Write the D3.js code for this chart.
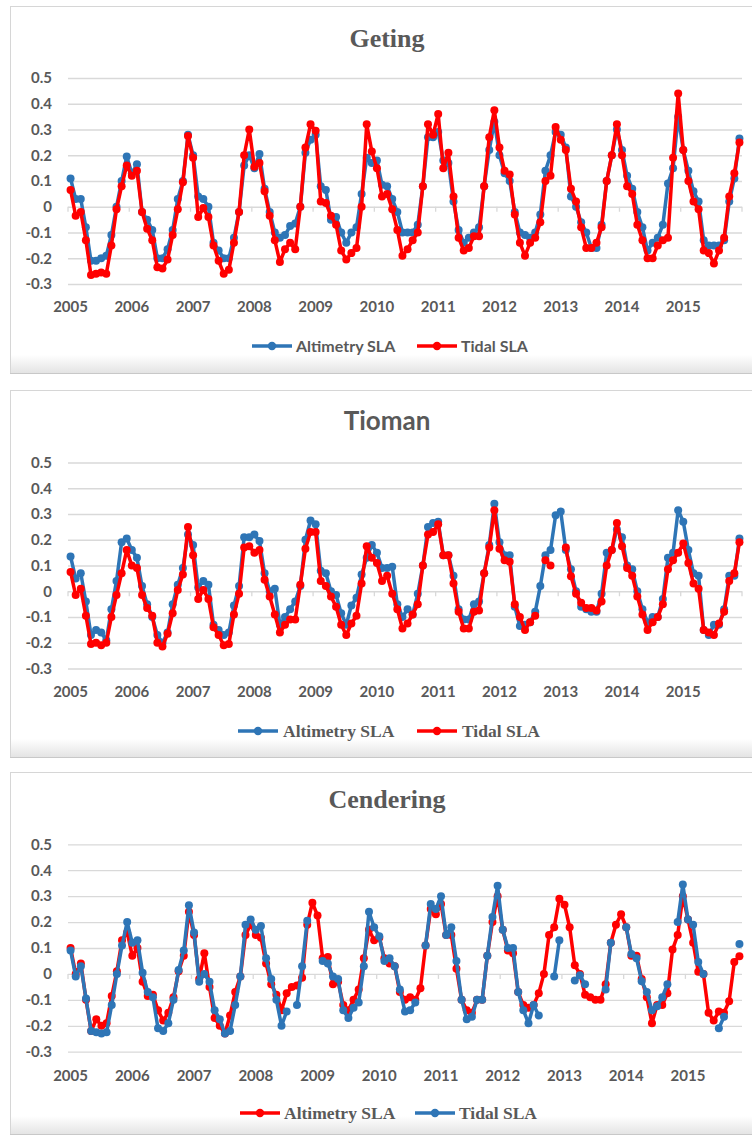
<!DOCTYPE html>
<html>
<head>
<meta charset="utf-8">
<script src="https://cdn.jsdelivr.net/npm/d3@7"></script>
<style>
  body { margin: 0; background: #ffffff; }
  svg { display: block; }
</style>
</head>
<body>
<script>
// tick labels
var years = ["2005", "2006", "2007", "2008", "2009", "2010", "2011", "2012", "2013", "2014", "2015"];
var yTicks = [-0.3, -0.2, -0.1, 0, 0.1, 0.2, 0.3, 0.4, 0.5];

// monthly SLA (m), Jan 2005 onwards
var getingAltimetry = [
  0.11, 0.03, 0.03, -0.08, -0.21, -0.21, -0.2, -0.19, -0.11, 0.0, 0.1, 0.195,
  0.13, 0.165, -0.02, -0.05, -0.09, -0.2, -0.2, -0.165, -0.09, 0.03, 0.1, 0.28,
  0.2, 0.04, 0.03, 0.0, -0.14, -0.17, -0.2, -0.2, -0.12, -0.02, 0.16, 0.2,
  0.15, 0.205, 0.07, -0.02, -0.1, -0.12, -0.11, -0.075, -0.065, 0.0, 0.21, 0.26,
  0.28, 0.08, 0.065, -0.05, -0.04, -0.1, -0.14, -0.1, -0.08, 0.05, 0.19, 0.17,
  0.18, 0.085, 0.08, 0.03, -0.02, -0.1, -0.1, -0.1, -0.07, 0.08, 0.27, 0.27,
  0.29, 0.18, 0.17, 0.02, -0.09, -0.14, -0.12, -0.1, -0.08, 0.08, 0.22, 0.33,
  0.2, 0.13, 0.1, -0.02, -0.1, -0.11, -0.12, -0.1, -0.03, 0.14, 0.2, 0.29,
  0.28, 0.23, 0.04, 0.0, -0.06, -0.1, -0.16, -0.16, -0.07, 0.1, 0.2, 0.3,
  0.22, 0.12, 0.07, -0.02, -0.08, -0.17, -0.14, -0.12, -0.07, 0.09, 0.15, 0.35,
  0.22, 0.14, 0.06, 0.02, -0.13, -0.15, -0.15, -0.15, -0.13, 0.02, 0.11, 0.265
];
var getingTidal = [
  0.065, -0.035, -0.02, -0.13, -0.265, -0.26, -0.255, -0.26, -0.15, -0.01, 0.08, 0.16,
  0.12, 0.14, -0.02, -0.085, -0.13, -0.235, -0.24, -0.205, -0.11, -0.01, 0.095, 0.275,
  0.19, -0.04, -0.005, -0.04, -0.15, -0.21, -0.26, -0.245, -0.14, -0.02, 0.2, 0.3,
  0.155, 0.17, 0.06, -0.035, -0.13, -0.215, -0.165, -0.14, -0.165, 0.0, 0.23, 0.32,
  0.295, 0.02, 0.015, -0.035, -0.07, -0.17, -0.205, -0.18, -0.16, 0.0, 0.32, 0.215,
  0.15, 0.04, 0.05, -0.01, -0.09, -0.19, -0.165, -0.13, -0.1, 0.08, 0.32, 0.28,
  0.36, 0.15, 0.21, 0.04, -0.12, -0.17, -0.16, -0.115, -0.115, 0.08, 0.27, 0.375,
  0.23, 0.14, 0.125, -0.03, -0.14, -0.19, -0.14, -0.12, -0.06, 0.1, 0.12, 0.31,
  0.26, 0.22, 0.07, 0.02, -0.08, -0.16, -0.16, -0.14, -0.08, 0.1, 0.2, 0.32,
  0.2, 0.08, 0.05, -0.07, -0.13, -0.2, -0.2, -0.15, -0.13, -0.12, 0.19, 0.44,
  0.22, 0.1, 0.02, -0.01, -0.17, -0.18, -0.22, -0.17, -0.12, 0.04, 0.13, 0.25
];
var tiomanAltimetry = [
  0.135, 0.05, 0.07, -0.04, -0.17, -0.15, -0.16, -0.19, -0.07, 0.04, 0.19, 0.205,
  0.16, 0.13, 0.02, -0.05, -0.1, -0.17, -0.2, -0.16, -0.05, 0.025, 0.09, 0.22,
  0.18, 0.015, 0.04, 0.025, -0.13, -0.15, -0.17, -0.16, -0.055, 0.02, 0.21, 0.21,
  0.22, 0.195, 0.07, 0.0, 0.01, -0.13, -0.1, -0.07, -0.04, 0.02, 0.2, 0.275,
  0.26, 0.08, 0.07, 0.0, -0.015, -0.085, -0.13, -0.055, -0.025, 0.065, 0.13, 0.18,
  0.15, 0.09, 0.09, 0.095, -0.05, -0.1, -0.07, -0.09, -0.01, 0.1, 0.25, 0.265,
  0.27, 0.14, 0.14, 0.06, -0.07, -0.11, -0.11, -0.05, -0.04, 0.07, 0.18, 0.34,
  0.19, 0.14, 0.14, -0.06, -0.135, -0.13, -0.12, -0.08, 0.02, 0.14, 0.16, 0.295,
  0.31, 0.16, 0.085, 0.0, -0.06, -0.07, -0.08, -0.08, -0.01, 0.15, 0.16, 0.24,
  0.21, 0.1, 0.085, 0.0, -0.07, -0.12, -0.1, -0.1, -0.03, 0.13, 0.15, 0.315,
  0.27, 0.16, 0.07, 0.06, -0.15, -0.17, -0.13, -0.13, -0.07, 0.06, 0.06, 0.205
];
var tiomanTidal = [
  0.075, -0.015, 0.01, -0.095, -0.205, -0.2, -0.21, -0.2, -0.1, -0.015, 0.07, 0.16,
  0.1, 0.09, -0.015, -0.065, -0.095, -0.2, -0.215, -0.165, -0.085, 0.005, 0.065, 0.25,
  0.14, -0.03, 0.005, -0.03, -0.14, -0.17, -0.21, -0.205, -0.09, -0.01, 0.17, 0.175,
  0.15, 0.16, 0.045, -0.02, -0.09, -0.16, -0.13, -0.11, -0.11, 0.025, 0.165, 0.23,
  0.23, 0.04, 0.02, -0.02, -0.06, -0.13, -0.17, -0.125, -0.095, 0.03, 0.175, 0.13,
  0.11, 0.04, 0.06, -0.01, -0.07, -0.145, -0.125, -0.09, -0.05, 0.1, 0.22, 0.23,
  0.26, 0.14, 0.14, 0.03, -0.08, -0.145, -0.145, -0.08, -0.075, 0.07, 0.17, 0.315,
  0.165, 0.12, 0.115, -0.05, -0.1, -0.15, -0.12, -0.095, null, 0.12, 0.1, null,
  null, 0.17, 0.058, -0.01, -0.045, -0.065, -0.065, -0.075, -0.04, 0.1, 0.16, 0.265,
  0.175, 0.09, 0.06, -0.02, -0.09, -0.15, -0.12, -0.1, -0.05, 0.085, 0.12, 0.15,
  0.185, 0.11, 0.03, 0.01, -0.15, -0.16, -0.17, -0.125, -0.08, 0.04, 0.07, 0.19
];
// Cendering stops at Nov 2015
var cenderingAltimetry = [
  0.1, 0.0, 0.04, -0.1, -0.22, -0.175, -0.2, -0.19, -0.085, 0.01, 0.13, 0.16,
  0.07, 0.1, -0.03, -0.085, -0.08, -0.14, -0.18, -0.15, -0.09, 0.01, 0.07, 0.24,
  0.15, -0.02, 0.08, -0.05, -0.17, -0.2, -0.23, -0.16, -0.07, -0.01, 0.15, 0.19,
  0.15, 0.14, 0.04, -0.04, -0.08, -0.14, -0.075, -0.05, -0.045, -0.015, 0.19, 0.275,
  0.225, 0.06, 0.065, -0.04, -0.03, -0.12, -0.14, -0.1, -0.06, 0.06, 0.17, 0.13,
  0.14, 0.06, 0.04, 0.03, -0.07, -0.1, -0.09, -0.1, -0.055, 0.11, 0.25, 0.23,
  0.27, 0.15, 0.15, 0.02, -0.1, -0.14, -0.15, -0.1, -0.1, 0.07, 0.2, 0.3,
  0.17, 0.09, 0.08, -0.07, -0.12, -0.13, -0.12, -0.075, 0.0, 0.15, 0.18, 0.29,
  0.267, 0.18, 0.033, 0.0, -0.08, -0.09, -0.1, -0.1, -0.04, 0.12, 0.19, 0.23,
  0.18, 0.07, 0.07, -0.02, -0.09, -0.19, -0.12, -0.12, -0.075, 0.094, 0.15, 0.3,
  0.21, 0.12, 0.008, 0.0, -0.15, -0.18, -0.145, -0.15, -0.105, 0.046, 0.068
];
var cenderingTidal = [
  0.09, -0.01, 0.03, -0.095, -0.22, -0.225, -0.23, -0.225, -0.12, 0.0, 0.11, 0.2,
  0.12, 0.13, 0.005, -0.07, -0.09, -0.21, -0.22, -0.19, -0.1, 0.015, 0.09, 0.265,
  0.16, -0.03, 0.0, -0.03, -0.14, -0.175, -0.23, -0.22, -0.12, -0.01, 0.19, 0.21,
  0.17, 0.185, 0.06, -0.02, -0.1, -0.2, -0.145, null, -0.12, 0.03, 0.205, null,
  null, 0.05, 0.04, -0.01, -0.02, -0.14, -0.17, -0.13, -0.11, 0.03, 0.24, 0.18,
  0.145, 0.05, 0.06, 0.03, -0.06, -0.145, -0.14, -0.11, null, 0.11, 0.27, 0.25,
  0.3, 0.15, 0.18, 0.05, -0.1, -0.175, -0.165, -0.1, -0.1, 0.07, 0.22, 0.34,
  0.17, 0.1, 0.1, -0.07, -0.14, -0.19, -0.12, -0.16, null, null, -0.01, 0.13,
  null, null, -0.025, -0.005, -0.04, null, null, null, -0.06, 0.12, null, null,
  0.18, 0.077, 0.06, -0.028, -0.07, -0.14, -0.125, -0.09, -0.04, null, 0.2, 0.345,
  0.21, 0.19, 0.046, 0.0, null, null, -0.21, -0.165, null, null, 0.115
];

var blue = "#2e75b6";
var red = "#ff0000";
var textColor = "#595959";
var sansFont = "Lato, 'Open Sans', sans-serif";
var serifFont = "'Liberation Serif', 'DejaVu Serif', serif";

// panel layout
var panels = [
  { title: "Geting", titleFont: serifFont, legendFont: sansFont, legendSize: 16,
    legendX: [252, 417], legendGap: 44,
    top: 6, bottom: 373, gridTop: 78, gridBottom: 284, titleY: 47, xLabelY: 312, legendY: 346,
    series: [{ name: "Altimetry SLA", values: getingAltimetry, color: blue },
             { name: "Tidal SLA", values: getingTidal, color: red }] },
  { title: "Tioman", titleFont: sansFont, legendFont: serifFont, legendSize: 17.5,
    legendX: [238, 417], legendGap: 45,
    top: 390, bottom: 757, gridTop: 462.5, gridBottom: 668.5, titleY: 430, xLabelY: 697, legendY: 731,
    series: [{ name: "Altimetry SLA", values: tiomanAltimetry, color: blue },
             { name: "Tidal SLA", values: tiomanTidal, color: red }] },
  { title: "Cendering", titleFont: serifFont, legendFont: serifFont, legendSize: 17.5,
    legendX: [240, 415], legendGap: 44,
    top: 772, bottom: 1134, gridTop: 844.3, gridBottom: 1051.7, titleY: 808, xLabelY: 1081, legendY: 1113,
    series: [{ name: "Altimetry SLA", values: cenderingAltimetry, color: red },
             { name: "Tidal SLA", values: cenderingTidal, color: blue }] }
];

var svgWidth = 752;
var svgHeight = 1136;
var plotLeft = 68;
var plotRight = 742;

var svg = d3.select("body")
  .append("svg")
  .attr("width", svgWidth)
  .attr("height", svgHeight);

// soft shadow at the bottom of each chart box
var grad = svg.append("defs").append("linearGradient")
  .attr("id", "shade")
  .attr("x1", 0).attr("y1", 0).attr("x2", 0).attr("y2", 1);
grad.append("stop").attr("offset", "0%").attr("stop-color", "#ffffff");
grad.append("stop").attr("offset", "100%").attr("stop-color", "#e4e4e4");

panels.forEach(function(p) {
  var g = svg.append("g");
  var n = p.series[0].values.length;

  // chart box
  g.append("rect")
    .attr("x", 10.5)
    .attr("y", p.top + 0.5)
    .attr("width", 760)
    .attr("height", p.bottom - p.top)
    .attr("fill", "#ffffff")
    .attr("stroke", "#d6d6d6");
  g.append("rect")
    .attr("x", 11)
    .attr("y", p.bottom - 18)
    .attr("width", 760)
    .attr("height", 18)
    .attr("fill", "url(#shade)");
  g.append("line")
    .attr("x1", 10).attr("x2", svgWidth)
    .attr("y1", p.bottom + 0.5).attr("y2", p.bottom + 0.5)
    .attr("stroke", "#c8c8c8");

  // scales
  var xScale = d3.scaleBand()
    .domain(d3.range(n))
    .range([plotLeft, plotRight]);
  var half = xScale.bandwidth() / 2;

  var yScale = d3.scaleLinear()
    .domain([-0.3, 0.5])
    .range([p.gridBottom, p.gridTop]);

  // gridlines + y labels
  var leftAxis = d3.axisLeft(yScale)
    .tickValues(yTicks)
    .tickSize(-(plotRight - plotLeft))
    .tickPadding(16)
    .tickFormat(function(d) { return d === 0 ? "0" : d.toFixed(1); });

  var yAxisG = g.append("g")
    .attr("transform", `translate(${plotLeft}, 0)`)
    .call(leftAxis);
  yAxisG.select(".domain").remove();
  yAxisG.selectAll("line").attr("stroke", "#d9d9d9").attr("stroke-width", 1.3);
  yAxisG.selectAll("text")
    .attr("fill", textColor)
    .style("font-family", sansFont)
    .style("font-size", "15px")
    .style("font-weight", "bold");

  // small year ticks on the zero line
  var y0 = yScale(0);
  g.selectAll(".yeartick")
    .data(d3.range(0, n + 1, 12))
    .enter()
    .append("line")
    .attr("x1", d => d < n ? xScale(d) : plotRight)
    .attr("x2", d => d < n ? xScale(d) : plotRight)
    .attr("y1", y0)
    .attr("y2", y0 + 5)
    .attr("stroke", "#d9d9d9")
    .attr("stroke-width", 1.3);

  // year labels
  var bottomAxis = d3.axisBottom(xScale)
    .tickValues(d3.range(0, n, 12))
    .tickSize(0)
    .tickPadding(0)
    .tickFormat(d => years[d / 12]);

  var xAxisG = g.append("g")
    .attr("transform", `translate(0, ${p.xLabelY})`)
    .call(bottomAxis);
  xAxisG.select(".domain").remove();
  xAxisG.selectAll("text")
    .attr("dy", 0)
    .attr("fill", textColor)
    .style("font-family", sansFont)
    .style("font-size", "15px")
    .style("font-weight", "bold");

  // title
  g.append("text")
    .attr("x", 387)
    .attr("y", p.titleY)
    .attr("text-anchor", "middle")
    .attr("fill", textColor)
    .style("font-family", p.titleFont)
    .style("font-size", "26px")
    .style("font-weight", "bold")
    .text(p.title);

  // series: line then markers
  var lineGen = d3.line()
    .defined(d => d != null)
    .x((d, i) => xScale(i) + half)
    .y(d => yScale(d));

  p.series.forEach(function(s) {
    g.append("path")
      .datum(s.values)
      .attr("d", lineGen)
      .attr("fill", "none")
      .attr("stroke", s.color)
      .attr("stroke-width", 3.5)
      .attr("stroke-linejoin", "round");

    g.append("g")
      .selectAll("circle")
      .data(s.values.map((v, i) => ({ v: v, i: i })).filter(d => d.v != null))
      .enter()
      .append("circle")
      .attr("cx", d => xScale(d.i) + half)
      .attr("cy", d => yScale(d.v))
      .attr("r", 4)
      .attr("fill", s.color);
  });

  // legend
  p.series.forEach(function(s, k) {
    var lg = g.append("g").attr("transform", `translate(${p.legendX[k]}, ${p.legendY})`);
    lg.append("line")
      .attr("x1", 0).attr("x2", 40)
      .attr("y1", 0).attr("y2", 0)
      .attr("stroke", s.color)
      .attr("stroke-width", 3.5);
    lg.append("circle")
      .attr("cx", 20).attr("cy", 0).attr("r", 4.2)
      .attr("fill", s.color);
    lg.append("text")
      .attr("x", p.legendGap)
      .attr("y", 0)
      .attr("dy", "0.35em")
      .attr("fill", textColor)
      .style("font-family", p.legendFont)
      .style("font-size", p.legendSize + "px")
      .style("font-weight", "bold")
      .text(s.name);
  });
});
</script>
</body>
</html>
